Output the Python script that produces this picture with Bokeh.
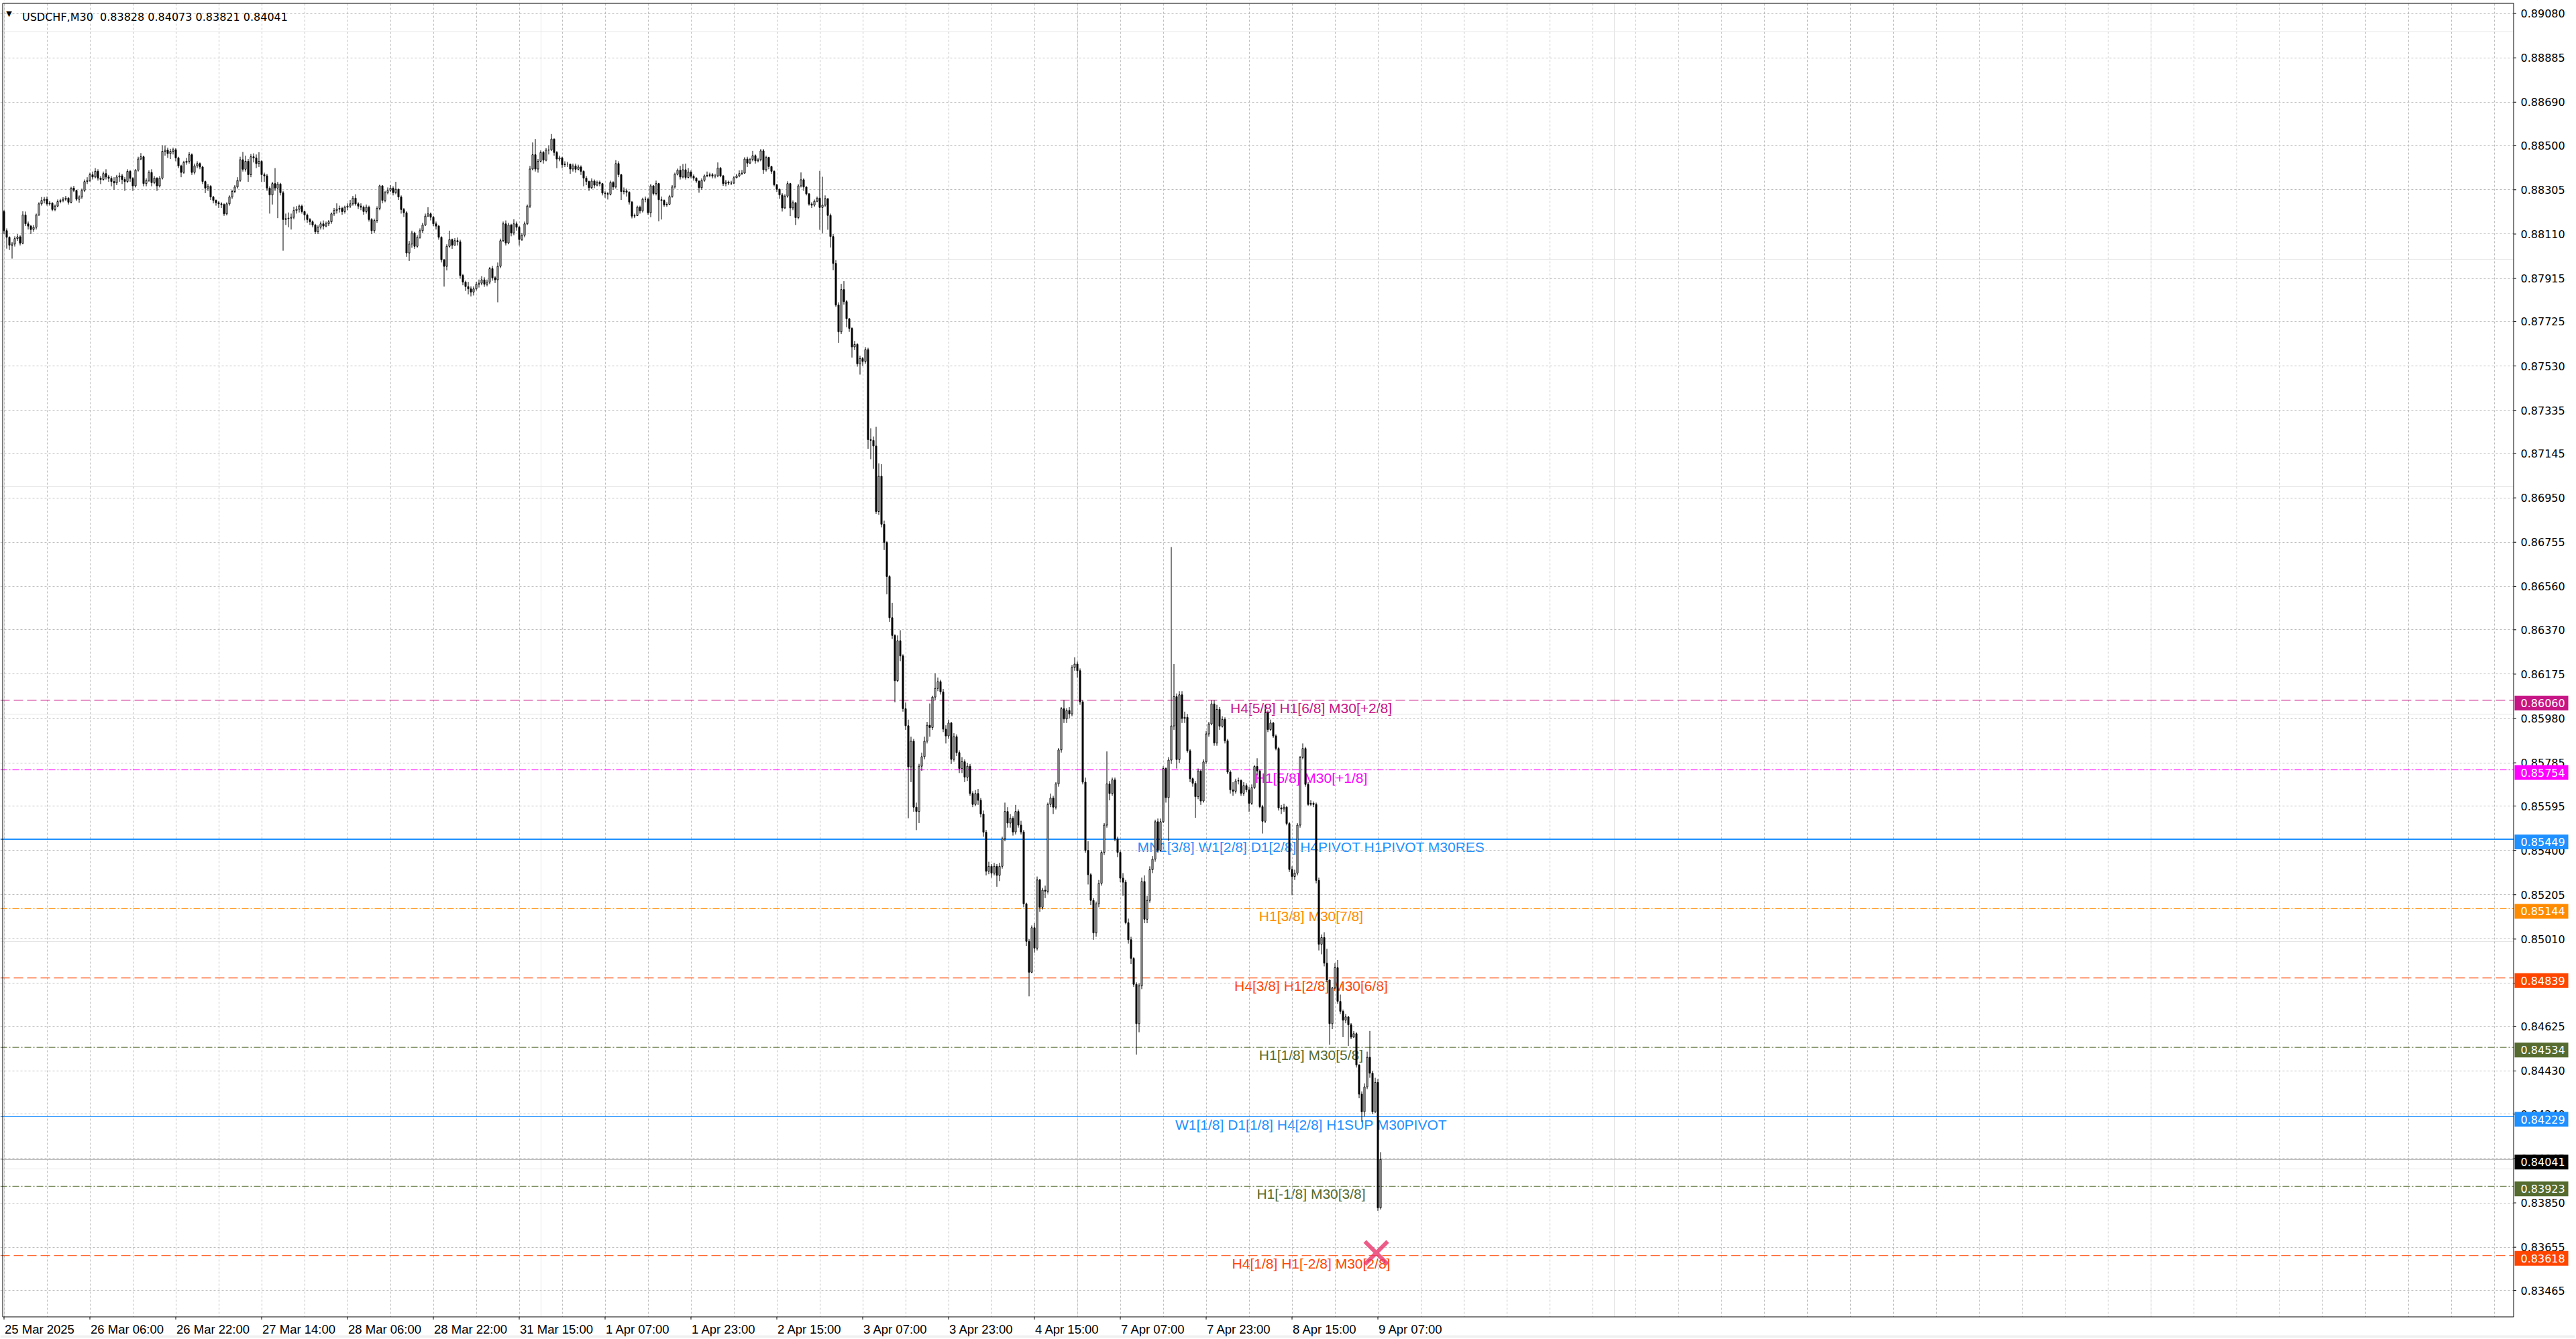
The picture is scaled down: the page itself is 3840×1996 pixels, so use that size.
import numpy as np
from bokeh.plotting import figure
from bokeh.models import Range1d, FixedTicker, Span, Grid
from bokeh.core.properties import value
from bokeh.embed import file_html
from bokeh.resources import INLINE

SYMBOL = "USDCHF,M30"

# ---------------- data (prices in points, 1 point = 0.00001) ----------------
open_first = 88209
close_pts = [
88125, 88096, 88061, 88066, 88090, 88098, 88070, 88194, 88155, 88145,
88130, 88140, 88194, 88243, 88258, 88263, 88243, 88246, 88218, 88233,
88253, 88258, 88263, 88268, 88250, 88312, 88302, 88263, 88273, 88302,
88341, 88346, 88371, 88361, 88386, 88356, 88350, 88376, 88361, 88355,
88341, 88335, 88361, 88366, 88350, 88341, 88386, 88355, 88322, 88391,
88440, 88450, 88332, 88346, 88381, 88336, 88356, 88322, 88356, 88474,
88479, 88464, 88474, 88481, 88445, 88410, 88381, 88425, 88430, 88459,
88381, 88410, 88420, 88405, 88341, 88312, 88320, 88273, 88258, 88248,
88243, 88240, 88199, 88243, 88273, 88297, 88317, 88346, 88437, 88395,
88430, 88371, 88450, 88445, 88420, 88430, 88371, 88366, 88312, 88282,
88332, 88312, 88330, 88292, 88174, 88178, 88180, 88184, 88214, 88219,
88233, 88209, 88194, 88174, 88164, 88150, 88120, 88140, 88155, 88145,
88155, 88164, 88199, 88214, 88219, 88223, 88209, 88228, 88233, 88243,
88268, 88243, 88233, 88228, 88209, 88228, 88174, 88125, 88170, 88223,
88322, 88258, 88292, 88302, 88312, 88292, 88307, 88273, 88218, 88204,
88027, 88066, 88115, 88056, 88096, 88125, 88150, 88189, 88199, 88184,
88155, 88145, 88096, 87997, 87968, 88056, 88086, 88061, 88081, 88076,
87928, 87899, 87879, 87869, 87855, 87869, 87889, 87894, 87909, 87889,
87899, 87958, 87918, 87909, 87968, 88081, 88155, 88071, 88150, 88115,
88155, 88140, 88086, 88105, 88155, 88233, 88396, 88459, 88396, 88430,
88469, 88435, 88479, 88480, 88528, 88469, 88440, 88445, 88415, 88418,
88418, 88396, 88410, 88395, 88405, 88386, 88356, 88341, 88314, 88343,
88325, 88338, 88332, 88290, 88288, 88285, 88337, 88317, 88420, 88371,
88297, 88300, 88294, 88251, 88189, 88191, 88228, 88212, 88263, 88263,
88204, 88322, 88288, 88332, 88261, 88258, 88238, 88241, 88275, 88317,
88373, 88391, 88361, 88393, 88359, 88383, 88364, 88356, 88343, 88314,
88346, 88366, 88368, 88371, 88365, 88366, 88400, 88366, 88332, 88339,
88334, 88334, 88358, 88366, 88376, 88378, 88440, 88422, 88438, 88455,
88432, 88437, 88476, 88393, 88447, 88407, 88386, 88327, 88307, 88282,
88225, 88277, 88332, 88225, 88248, 88182, 88322, 88349, 88317, 88287,
88242, 88237, 88254, 88268, 88227, 88237, 88266, 88192, 88099, 87981,
87798, 87680, 87866, 87813, 87738, 87695, 87614, 87625, 87539, 87563,
87550, 87602, 87206, 87203, 87178, 86890, 87045, 86834, 86754, 86604,
86423, 86345, 86146, 86322, 86255, 86023, 85948, 85767, 85880, 85590,
85571, 85770, 85812, 85880, 85950, 85940, 86074, 86112, 86142, 86097,
85933, 85903, 85960, 85800, 85900, 85830, 85760, 85790, 85722, 85770,
85650, 85602, 85650, 85620, 85560, 85480, 85308, 85330, 85300, 85330,
85290, 85330, 85451, 85571, 85520, 85541, 85481, 85571, 85511, 85481,
85165, 85000, 84864, 85060, 84970, 85270, 85150, 85225, 85220, 85602,
85630, 85590, 85692, 85842, 86023, 85978, 86015, 86000, 86204, 86219,
86190, 86053, 85700, 85400, 85293, 85180, 85037, 85165, 85255, 85391,
85511, 85692, 85650, 85710, 85450, 85391, 85278, 85260, 85082, 85007,
84925, 84811, 84638, 84804, 85263, 85097, 85180, 85315, 85361, 85526,
85400, 85526, 85760, 85632, 85797, 85947, 86076, 85799, 86084, 85980,
85985, 85838, 85715, 85695, 85636, 85749, 85617, 85789, 85912, 85956,
86044, 85872, 86020, 85946, 85976, 85882, 85744, 85666, 85660, 85705,
85707, 85651, 85685, 85666, 85607, 85676, 85769, 85749, 85592, 85528,
86005, 85931, 85960, 85903, 85848, 85587, 85582, 85590, 85518, 85316,
85285, 85300, 85511, 85808, 85848, 85690, 85602, 85607, 85602, 85268,
84987, 85017, 84904, 84830, 84638, 84795, 84884, 84736, 84692, 84653,
84668, 84633, 84579, 84594, 84456, 84328, 84250, 84360, 84490, 84420,
84250, 84380, 83828, 84041,
]
high_pts = [
88215, 88135, 88100, 88075, 88100, 88110, 88105, 88210, 88209, 88165,
88150, 88150, 88200, 88250, 88273, 88273, 88275, 88255, 88250, 88240,
88262, 88265, 88272, 88278, 88272, 88318, 88322, 88305, 88280, 88310,
88350, 88360, 88380, 88385, 88400, 88395, 88365, 88385, 88395, 88370,
88365, 88360, 88370, 88380, 88375, 88360, 88395, 88392, 88360, 88396,
88450, 88466, 88455, 88355, 88390, 88395, 88365, 88360, 88365, 88500,
88500, 88490, 88485, 88490, 88488, 88450, 88415, 88432, 88445, 88470,
88465, 88420, 88430, 88425, 88410, 88345, 88330, 88325, 88278, 88262,
88255, 88250, 88245, 88250, 88280, 88305, 88325, 88360, 88450, 88471,
88455, 88440, 88462, 88465, 88460, 88470, 88435, 88380, 88375, 88320,
88340, 88400, 88340, 88335, 88300, 88200, 88205, 88200, 88230, 88233,
88240, 88240, 88212, 88200, 88180, 88170, 88155, 88148, 88165, 88170,
88165, 88172, 88205, 88225, 88245, 88235, 88230, 88235, 88245, 88260,
88278, 88285, 88250, 88245, 88235, 88240, 88235, 88180, 88178, 88232,
88327, 88325, 88300, 88315, 88325, 88320, 88340, 88310, 88280, 88225,
88210, 88080, 88125, 88120, 88105, 88135, 88160, 88200, 88228, 88205,
88190, 88165, 88150, 88100, 88000, 88065, 88125, 88090, 88092, 88095,
88085, 87935, 87905, 87900, 87880, 87880, 87900, 87910, 87925, 87920,
87910, 87965, 87970, 87925, 87985, 88090, 88165, 88170, 88160, 88155,
88175, 88165, 88145, 88115, 88165, 88240, 88410, 88513, 88528, 88440,
88478, 88475, 88488, 88500, 88550, 88530, 88475, 88455, 88450, 88430,
88428, 88420, 88420, 88420, 88415, 88412, 88390, 88365, 88345, 88355,
88350, 88345, 88345, 88335, 88298, 88295, 88345, 88342, 88435, 88430,
88375, 88315, 88310, 88298, 88255, 88200, 88235, 88235, 88270, 88275,
88270, 88330, 88325, 88345, 88335, 88275, 88262, 88250, 88282, 88325,
88380, 88398, 88410, 88418, 88420, 88400, 88390, 88372, 88360, 88345,
88355, 88372, 88385, 88380, 88378, 88375, 88425, 88405, 88370, 88348,
88345, 88344, 88365, 88375, 88390, 88392, 88448, 88450, 88445, 88476,
88460, 88445, 88484, 88484, 88455, 88450, 88410, 88390, 88330, 88310,
88290, 88285, 88342, 88335, 88258, 88250, 88330, 88381, 88355, 88320,
88290, 88250, 88262, 88275, 88388, 88362, 88280, 88257, 88200, 88110,
87995, 87810, 87891, 87903, 87820, 87740, 87700, 87640, 87630, 87575,
87570, 87613, 87610, 87256, 87220, 87263, 87102, 87098, 86850, 86760,
86610, 86488, 86350, 86345, 86368, 86262, 86050, 85975, 85900, 85890,
85610, 85780, 85830, 85900, 85965, 86046, 86080, 86179, 86160, 86150,
86110, 85950, 85975, 85965, 85915, 85910, 85840, 85810, 85800, 85785,
85780, 85660, 85665, 85670, 85630, 85575, 85490, 85350, 85340, 85345,
85340, 85345, 85460, 85610, 85590, 85560, 85550, 85600, 85580, 85530,
85490, 85170, 85010, 85070, 85080, 85285, 85275, 85235, 85245, 85610,
85650, 85640, 85700, 85850, 86030, 86060, 86025, 86030, 86215, 86249,
86230, 86200, 86060, 85720, 85440, 85300, 85190, 85175, 85270, 85400,
85520, 85835, 85705, 85720, 85720, 85460, 85400, 85300, 85270, 85100,
85020, 84930, 84820, 84815, 85280, 85290, 85200, 85330, 85375, 85535,
85540, 85540, 85770, 85765, 85810, 86734, 86219, 86090, 86100, 86100,
86010, 86000, 85845, 85720, 85705, 85760, 85755, 85800, 85925, 85965,
86060, 86060, 86040, 86030, 85990, 85985, 85890, 85752, 85700, 85715,
85720, 85712, 85700, 85695, 85680, 85690, 85775, 85805, 85755, 85600,
86040, 86015, 85975, 85965, 85910, 85855, 85600, 85605, 85595, 85525,
85330, 85315, 85520, 85815, 85870, 85855, 85700, 85620, 85615, 85610,
85280, 85030, 85040, 84967, 84830, 84800, 84904, 84918, 84766, 84700,
84680, 84670, 84641, 84605, 84600, 84460, 84340, 84375, 84515, 84606,
84430, 84400, 84395, 84073,
]
low_pts = [
88110, 88046, 88040, 88002, 88055, 88080, 88060, 88065, 88145, 88130,
88110, 88120, 88130, 88190, 88235, 88245, 88235, 88235, 88210, 88210,
88228, 88245, 88250, 88255, 88240, 88245, 88295, 88255, 88248, 88265,
88295, 88330, 88340, 88350, 88355, 88345, 88330, 88345, 88350, 88340,
88320, 88305, 88325, 88340, 88330, 88300, 88335, 88340, 88300, 88315,
88385, 88435, 88320, 88320, 88340, 88320, 88330, 88300, 88315, 88350,
88455, 88445, 88440, 88460, 88430, 88400, 88360, 88375, 88415, 88420,
88370, 88372, 88400, 88395, 88330, 88290, 88300, 88260, 88245, 88235,
88225, 88225, 88190, 88192, 88235, 88265, 88290, 88310, 88340, 88385,
88385, 88340, 88360, 88425, 88400, 88405, 88340, 88340, 88300, 88200,
88240, 88300, 88180, 88280, 88037, 88150, 88140, 88130, 88175, 88200,
88205, 88200, 88170, 88160, 88150, 88140, 88110, 88110, 88130, 88130,
88140, 88145, 88155, 88190, 88200, 88205, 88195, 88200, 88215, 88225,
88235, 88235, 88220, 88215, 88195, 88200, 88165, 88110, 88115, 88160,
88215, 88245, 88250, 88285, 88295, 88280, 88285, 88260, 88200, 88185,
88010, 87992, 88050, 88045, 88050, 88090, 88115, 88145, 88185, 88170,
88145, 88130, 88085, 87985, 87879, 87950, 88050, 88045, 88060, 88060,
87915, 87885, 87860, 87845, 87836, 87840, 87862, 87875, 87885, 87878,
87880, 87890, 87905, 87895, 87810, 87960, 88075, 88060, 88065, 88100,
88105, 88125, 88060, 88080, 88096, 88150, 88225, 88390, 88385, 88380,
88425, 88420, 88430, 88460, 88475, 88455, 88400, 88430, 88400, 88405,
88405, 88375, 88385, 88380, 88390, 88370, 88320, 88325, 88300, 88308,
88312, 88320, 88320, 88280, 88270, 88262, 88280, 88305, 88310, 88360,
88260, 88285, 88275, 88240, 88179, 88180, 88190, 88200, 88205, 88250,
88195, 88184, 88280, 88280, 88166, 88174, 88230, 88230, 88238, 88270,
88310, 88368, 88350, 88355, 88350, 88355, 88355, 88345, 88335, 88292,
88305, 88340, 88360, 88360, 88355, 88355, 88360, 88360, 88322, 88320,
88325, 88325, 88330, 88355, 88360, 88370, 88375, 88405, 88418, 88430,
88420, 88425, 88430, 88375, 88385, 88395, 88375, 88320, 88295, 88265,
88209, 88220, 88270, 88189, 88215, 88150, 88175, 88315, 88300, 88280,
88235, 88225, 88230, 88250, 88129, 88114, 88230, 88129, 88051, 87951,
87790, 87632, 87670, 87800, 87700, 87680, 87567, 87600, 87527, 87492,
87530, 87540, 87166, 87120, 87078, 86880, 86875, 86820, 86721, 86526,
86405, 86330, 86051, 86140, 86232, 86010, 85930, 85541, 85700, 85570,
85489, 85520, 85750, 85800, 85870, 85900, 85930, 86060, 86100, 86085,
85920, 85870, 85890, 85780, 85790, 85815, 85740, 85740, 85700, 85705,
85640, 85590, 85595, 85600, 85545, 85460, 85290, 85295, 85280, 85290,
85240, 85265, 85320, 85440, 85500, 85500, 85465, 85470, 85500, 85470,
85150, 84980, 84758, 84860, 84950, 84960, 85130, 85140, 85190, 85210,
85590, 85560, 85580, 85680, 85830, 85960, 85960, 85980, 85990, 86190,
86160, 86040, 85690, 85390, 85250, 85160, 85007, 85020, 85150, 85245,
85380, 85500, 85620, 85640, 85440, 85370, 85260, 85200, 85075, 84990,
84900, 84800, 84502, 84600, 84790, 85080, 85080, 85170, 85300, 85350,
85390, 85395, 85520, 85610, 85440, 85780, 85930, 85760, 85784, 85960,
85960, 85830, 85700, 85680, 85543, 85625, 85600, 85610, 85780, 85900,
85950, 85860, 85860, 85930, 85940, 85870, 85735, 85650, 85640, 85650,
85690, 85640, 85640, 85655, 85570, 85600, 85670, 85730, 85585, 85474,
85520, 85920, 85925, 85895, 85840, 85575, 85560, 85570, 85510, 85305,
85203, 85270, 85290, 85500, 85800, 85680, 85595, 85595, 85590, 85255,
84960, 84943, 84890, 84820, 84545, 84614, 84790, 84725, 84680, 84579,
84640, 84540, 84570, 84575, 84445, 84310, 84206, 84230, 84350, 84400,
84240, 84245, 83815, 83821,
]

time_tick_bars = [0, 32, 64, 96, 128, 160, 192, 224, 256, 288, 320, 352, 384, 416, 448, 480, 512]
time_tick_labels = ["25 Mar 2025", "26 Mar 06:00", "26 Mar 22:00", "27 Mar 14:00", "28 Mar 06:00",
                    "28 Mar 22:00", "31 Mar 15:00", "1 Apr 07:00", "1 Apr 23:00", "2 Apr 15:00",
                    "3 Apr 07:00", "3 Apr 23:00", "4 Apr 15:00", "7 Apr 07:00", "7 Apr 23:00",
                    "8 Apr 15:00", "9 Apr 07:00"]
price_ticks = [0.89080, 0.88885, 0.88690, 0.88500, 0.88305, 0.88110, 0.87915, 0.87725, 0.87530,
               0.87335, 0.87145, 0.86950, 0.86755, 0.86560, 0.86370, 0.86175, 0.85980, 0.85785,
               0.85595, 0.85400, 0.85205, 0.85010, 0.84815, 0.84625, 0.84430, 0.84240, 0.84045,
               0.83850, 0.83655, 0.83465]

level_prices = [0.86060, 0.85754, 0.85449, 0.85144, 0.84839, 0.84534, 0.84229, 0.83923, 0.83618]
level_texts = ["H4[5/8] H1[6/8] M30[+2/8]", "H1[5/8] M30[+1/8]",
               "MN1[3/8] W1[2/8] D1[2/8] H4PIVOT H1PIVOT M30RES", "H1[3/8] M30[7/8]",
               "H4[3/8] H1[2/8] M30[6/8]", "H1[1/8] M30[5/8]",
               "W1[1/8] D1[1/8] H4[2/8] H1SUP M30PIVOT", "H1[-1/8] M30[3/8]",
               "H4[1/8] H1[-2/8] M30[2/8]"]

signal_bar = [511.4]
signal_price = [0.83630]

# ---------------- styles ----------------
level_colors = ["#C71585", "#FF00FF", "#1E90FF", "#FF8C00", "#FF4500", "#556B2F", "#1E90FF", "#556B2F", "#FF4500"]
level_dashes = ["14 6", "10 3 2 3", "solid", "10 3 2 3", "14 6", "10 3 2 3", "solid", "10 3 2 3", "14 6"]
level_widths = [1, 1, 2, 1, 1, 1, 1, 1, 1]

# ---------------- geometry of the MT4-like window (pixels) ----------------
W, HGT = 3838, 1994
PX_PER_BAR = 4.0
PX_PER_PRICE = 33900.0
REF_PRICE, REF_PY = 0.89080, 19.6          # price 0.89080 sits 19.6 px from top
XS = -1.375                                 # bar i centred at pixel 5.5 + 4*i
AXIS_PX = 3746.5                            # chart right border / price axis line
BOTTOM_PX = 1962.5                          # chart bottom border / time axis line
TOP_PX, LEFT_PX = 4.5, 3.5


def bx(px):
    return XS + px / PX_PER_BAR


def py(px):
    return REF_PRICE - (px - REF_PY) / PX_PER_PRICE


# ---------------- prepare candles ----------------
n = min(len(close_pts), len(high_pts), len(low_pts))
C = np.array(close_pts[:n], dtype=float) / 1e5
O = np.concatenate([[open_first], close_pts[:n - 1]]).astype(float) / 1e5
H = np.maximum.reduce([np.array(high_pts[:n], dtype=float) / 1e5, O, C])
L = np.minimum.reduce([np.array(low_pts[:n], dtype=float) / 1e5, O, C])
idx = np.arange(n)
up = C >= O
dn = ~up

x_start, x_end = bx(0), bx(W)
y_top, y_bot = py(0), py(HGT)

p = figure(frame_width=W, frame_height=HGT,
           x_range=Range1d(x_start, x_end), y_range=Range1d(y_bot, y_top),
           output_backend="svg", toolbar_location=None,
           x_axis_location=None, y_axis_location=None, min_border=0)
p.background_fill_color = "white"
p.border_fill_color = "white"
p.outline_line_color = None

# grids
vgrid = Grid(dimension=0, ticker=FixedTicker(ticks=list(range(0, int(x_end) + 1, 16))),
             grid_line_color="#BDBDBD", grid_line_dash="3 3", grid_line_width=1)
hgrid = Grid(dimension=1, ticker=FixedTicker(ticks=price_ticks),
             grid_line_color="#BDBDBD", grid_line_dash="3 3", grid_line_width=1)
p.add_layout(vgrid)
p.add_layout(hgrid)

# level lines (background objects)
for price, col, dash, w in zip(level_prices, level_colors, level_dashes, level_widths):
    p.add_layout(Span(location=price, dimension="width", line_color=col,
                      line_dash=dash, line_width=w, level="underlay"))
bid = C[-1]
p.add_layout(Span(location=bid, dimension="width", line_color="#AFAFAF",
                  line_width=1, level="underlay"))

LABEL_X = bx(1954)
p.text(x=[LABEL_X] * len(level_prices), y=level_prices, text=level_texts,
       text_color=level_colors, text_font=value("Liberation Sans"), text_font_size="21px",
       text_align="center", text_baseline="top", level="underlay")

# white margins outside the chart area (price scale and time scale areas)
ax_x, bot_y = bx(AXIS_PX), py(BOTTOM_PX)
p.quad(left=[ax_x, x_start, x_start], right=[x_end, x_end, x_end],
       bottom=[y_bot, y_bot, py(TOP_PX)], top=[y_top, bot_y, y_top],
       fill_color="white", line_color=None)
# light grey window strip under the time scale
p.quad(left=[x_start], right=[x_end], bottom=[y_bot], top=[py(1990)],
       fill_color="#F0F0F0", line_color=None)

# chart border
left_x, top_y = bx(LEFT_PX), py(TOP_PX)
p.segment(x0=[left_x, left_x, left_x, ax_x], y0=[top_y, bot_y, bot_y, bot_y],
          x1=[ax_x, ax_x, left_x, ax_x], y1=[top_y, bot_y, top_y, top_y],
          line_color="black", line_width=1)

# candles
p.segment(x0=idx, y0=L, x1=idx, y1=H, line_color="black", line_width=1)
p.vbar(x=idx[up], top=C[up], bottom=O[up], width=0.5,
       fill_color="white", line_color="black", line_width=1)
p.vbar(x=idx[dn], top=O[dn], bottom=C[dn], width=0.5,
       fill_color="black", line_color="black", line_width=1)

# signal cross
p.scatter(x=signal_bar, y=signal_price, marker="x", size=48,
          line_color="#E8336B", line_width=6, line_alpha=0.8)

# price scale: ticks and labels
tick_len = 4 / PX_PER_BAR
p.segment(x0=[ax_x] * len(price_ticks), x1=[ax_x + tick_len] * len(price_ticks),
          y0=price_ticks, y1=price_ticks, line_color="black", line_width=1)
p.text(x=[bx(3757)] * len(price_ticks), y=price_ticks, text=["%.5f" % t for t in price_ticks],
       text_color="black", text_font=value("DejaVu Sans"), text_font_size="16px",
       text_align="left", text_baseline="middle")

# time scale: ticks and labels
p.segment(x0=time_tick_bars, x1=time_tick_bars, y0=[bot_y] * len(time_tick_bars),
          y1=[py(BOTTOM_PX + 4)] * len(time_tick_bars), line_color="black", line_width=1)
p.text(x=time_tick_bars, y=[py(1981)] * len(time_tick_bars), text=time_tick_labels,
       x_offset=1, text_color="black", text_font=value("Liberation Sans"),
       text_font_size="18.5px", text_align="left", text_baseline="alphabetic")

# price tags of the levels and of the bid on the price scale
tag_prices = level_prices + [float(bid)]
tag_colors = level_colors + ["#000000"]
tag_y = [t - 4 / PX_PER_PRICE for t in tag_prices]
p.rect(x=[bx(3788)] * len(tag_prices), y=tag_y, width=80, height=22,
       width_units="screen", height_units="screen",
       fill_color=tag_colors, line_color=None)
p.text(x=[bx(3757)] * len(tag_prices), y=tag_y, text=["%.5f" % t for t in tag_prices],
       text_color="white", text_font=value("DejaVu Sans"), text_font_size="16px",
       text_align="left", text_baseline="middle")

# header
header = "%s\u00a0 %.5f %.5f %.5f %.5f" % (SYMBOL, O[-1], H[-1], L[-1], C[-1])
p.text(x=[bx(32.5)], y=[py(25)], text=[header], text_color="black",
       text_font=value("DejaVu Sans"), text_font_size="16px",
       text_align="left", text_baseline="alphabetic")
p.text(x=[bx(13)], y=[py(19.5)], text=["\u25bc"], text_color="black",
       text_font=value("DejaVu Sans"), text_font_size="11px",
       text_align="center", text_baseline="middle")

open("out.html", "w").write(file_html(p, INLINE))
